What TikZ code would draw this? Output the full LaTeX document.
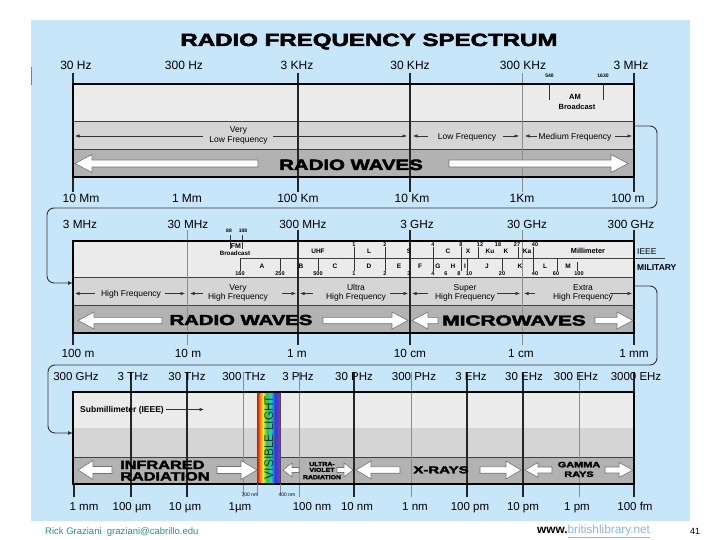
\documentclass[tikz,border=0pt]{standalone}
\usepackage{fontspec}
\usepackage{graphicx}
\setmainfont{Liberation Sans}
\newfontfamily\blackfont[BoldFeatures={FakeBold=2.5}]{Liberation Sans}
\usetikzlibrary{arrows.meta}
\newcommand\fsz[1]{\fontsize{#1}{#1}\selectfont}
\newcommand\heavy[3]{\scalebox{#2}[1]{\fsz{#1}\blackfont\bfseries #3}}
\newcommand\arrR[6]{\filldraw[warrow] (#1,#3-#4) -- (#2-#6,#3-#4) -- (#2-#6,#3-#5) -- (#2,#3) -- (#2-#6,#3+#5) -- (#2-#6,#3+#4) -- (#1,#3+#4) -- cycle;}
\newcommand\arrL[6]{\filldraw[warrow] (#1,#3-#4) -- (#2+#6,#3-#4) -- (#2+#6,#3-#5) -- (#2,#3) -- (#2+#6,#3+#5) -- (#2+#6,#3+#4) -- (#1,#3+#4) -- cycle;}
\definecolor{bgblue}{RGB}{200,230,250}
\definecolor{rowA}{RGB}{235,235,235}
\definecolor{rowB}{RGB}{213,213,213}
\definecolor{rowC}{RGB}{178,178,178}
\definecolor{tickgrey}{RGB}{140,140,140}
\definecolor{footteal}{RGB}{45,140,140}
\definecolor{linkblue}{RGB}{140,180,230}
\definecolor{vistext}{RGB}{30,55,30}
\begin{document}
\begin{tikzpicture}[x=1pt,y=-1pt,
 lbA/.style={anchor=base,inner sep=0pt,font=\fsz{12}},
 lbB/.style={anchor=base,inner sep=0pt,font=\fsz{11.8}},
 lbC/.style={anchor=base,inner sep=0pt,font=\fsz{11.5}},
 rng/.style={anchor=base,inner sep=0pt,font=\fsz{8.5}},
 tnum/.style={anchor=base,inner sep=0pt,font=\fsz{5.5}\bfseries},
 tlet/.style={anchor=base,inner sep=0pt,font=\fsz{6.5}\bfseries},
 hv/.style={anchor=base,inner sep=0pt},
 frame/.style={draw=black,line width=1.6pt},
 divline/.style={draw=black!75,line width=0.8pt},
 tickblk/.style={draw=black!85,line width=1.1pt},
 tickgry/.style={draw=tickgrey,line width=0.6pt},
 tinytick/.style={draw=black!80,line width=0.6pt},
 thinarr/.style={draw=black!80,line width=0.6pt,-{Latex[length=4.5pt,width=3.5pt]}},
 warrow/.style={fill=white,draw=black!55,line width=0.6pt,line join=miter},
 conn/.style={draw=black!80,line width=0.9pt,rounded corners=7pt,-{Latex[length=5pt,width=4pt]}}
]
\useasboundingbox (0,0) rectangle (720,540);
\fill[bgblue] (31,20) rectangle (690,521);
\draw[gray,line width=0.8pt] (31,67) -- (31,85);

% title
\node[hv] (title) at (369,46) {\heavy{17.7}{1.36}{RADIO FREQUENCY SPECTRUM}};

% ================= BAND 1 =================
\fill[rowA] (73,84) rectangle (634,121);
\fill[rowB] (73,121) rectangle (634,149);
\fill[rowC] (73,149) rectangle (634,177);
\draw[divline] (73,121) -- (634,121) (73,149) -- (634,149);
\foreach \x in {73,298,410,634} \draw[tickblk] (\x,73) -- (\x,192);
\draw[tickgry] (522,73) -- (522,192);
\draw[frame] (73,84) rectangle (634,177);
\foreach \x/\t [count=\i] in {76/30 Hz,184/300 Hz,297/3 KHz,410/30 KHz,523/300 KHz,631/3 MHz}
  \node[lbA] (ta\i) at (\x,69.3) {\t};
\foreach \x/\t [count=\i] in {81/10 Mm,187/1 Mm,298/100 Km,412/10 Km,522/1Km,628/100 m}
  \node[lbA] (tb\i) at (\x,202.7) {\t};
% AM broadcast
\node[tnum,font=\fsz{5}\bfseries] (n540) at (549.5,77.3) {540};
\node[tnum,font=\fsz{5}\bfseries] (n1630) at (603,77.3) {1630};
\draw[tinytick] (549,85) -- (549,100) (603.5,85) -- (603.5,100);
\node[anchor=base,inner sep=0pt,font=\fsz{7.5}\bfseries] (am1) at (575,99.3) {AM};
\node[anchor=base,inner sep=0pt,font=\fsz{7.5}\bfseries] (am2) at (577,109.3) {Broadcast};
% ranges
\node[rng] (vlf1) at (238.5,132.5) {Very};
\node[rng] (vlf2) at (238.5,142.5) {Low Frequency};
\node[rng] (lf) at (467,140) {Low Frequency};
\node[rng] (mf) at (575,140) {Medium Frequency};
\draw[thinarr] (203,136) -- (75,136);
\draw[thinarr] (273,136) -- (407,136);
\draw[thinarr] (428,136) -- (413,136);
\draw[thinarr] (503,136) -- (519,136);
\draw[thinarr] (537,136) -- (525,136);
\draw[thinarr] (615,136) -- (632,136);
% radio waves
\arrL{258}{75}{163.5}{3.5}{9}{17}
\arrR{449}{628}{163.5}{3.5}{9}{17}
\node[hv] (rw1) at (351,170) {\heavy{15}{1.36}{RADIO WAVES}};

% connector 1
\coordinate (b1out) at (634,126);
\coordinate (b2in) at (73,283);
\draw[conn] (b1out) -- (657,126) -- (657,208) -- (47,208) -- (47,283) -- (b2in);

% ================= BAND 2 =================
\fill[rowA] (73,241) rectangle (634,277);
\fill[rowB] (73,277) rectangle (634,305);
\fill[rowC] (73,305) rectangle (634,333);
\draw[divline] (73,277) -- (634,277) (73,305) -- (634,305);
\draw[divline] (240,258) -- (665,258);
% row 1 small ticks
\foreach \x in {354,385,433,461,533} \draw[tinytick] (\x,247) -- (\x,271);
\foreach \x in {478,518} \draw[tinytick] (\x,247) -- (\x,258);
\foreach \x in {240,280,318,467,502,557} \draw[tinytick] (\x,258) -- (\x,271);
\draw[tinytick] (577,262) -- (577,271);
\draw[tinytick] (230,235) -- (230,249) (242,235) -- (242,249);
% ticks
\foreach \x in {298,410,634} \draw[tickblk] (\x,230) -- (\x,345);
\draw[tickblk] (73,333) -- (73,345);
\foreach \x in {187,522} \draw[tickgry] (\x,230) -- (\x,345);
\draw[frame] (73,241) rectangle (634,333);
\foreach \x/\t [count=\i] in {80/3 MHz,188/30 MHz,303/300 MHz,417/3 GHz,527/30 GHz,631/300 GHz}
  \node[lbB] (tc\i) at (\x,228.3) {\t};
\foreach \x/\t [count=\i] in {78/100 m,188/10 m,297/1 m,410/10 cm,521/1 cm,634/1 mm}
  \node[lbB] (td\i) at (\x,357.7) {\t};
% FM
\node[tnum,font=\fsz{5}\bfseries] (n88) at (229,233) {88};
\node[tnum,font=\fsz{5}\bfseries] (n108) at (243,233) {108};
\node[tlet,font=\fsz{7}\bfseries] (fm) at (236,248) {FM};
\node[tlet,font=\fsz{6.2}\bfseries] (fmb) at (235,255) {Broadcast};
\node[tlet] (uhf) at (318,254) {UHF};
% IEEE numbers
\foreach \x/\t [count=\i] in {354/1,385/2,433/4,461/8,480/12,498/18,517/27,535/40}
  \node[tnum] (ie\i) at (\x,246.5) {\t};
\foreach \x/\t [count=\i] in {369/L,409/S,448/C,468/X,490/Ku,506/K,527/Ka}
  \node[tlet] (il\i) at (\x,253.3) {\t};
\node[tlet,font=\fsz{7.3}\bfseries] (mm) at (588,253.3) {Millimeter};
% military
\foreach \x/\t [count=\i] in {262/A,301/B,335/C,369/D,399/E,420/F,438/G,453/H,465/I,487/J,520/K,545/L,568/M}
  \node[tlet] (ml\i) at (\x,268) {\t};
\foreach \x/\t [count=\i] in {240/160,280/250,318/500,354/1,385/2,409/3,433/4,446/6,459/8,469/10,502/20,535/40,556/60,579/100}
  \node[tnum] (mn\i) at (\x,275.5) {\t};
\node[anchor=base west,inner sep=0pt,font=\fsz{8.5}] (ieee) at (637,254.3) {IEEE};
\node[anchor=base west,inner sep=0pt,font=\fsz{8.5}\bfseries] (mil) at (637,270) {MILITARY};
% ranges
\node[rng] (hf) at (131,296.5) {High Frequency};
\node[rng] (vhf1) at (238,290) {Very};
\node[rng] (vhf2) at (238,299.5) {High Frequency};
\node[rng] (uhf1) at (356,290) {Ultra};
\node[rng] (uhf2) at (356,299.5) {High Frequency};
\node[rng] (shf1) at (465,290) {Super};
\node[rng] (shf2) at (465,299.5) {High Frequency};
\node[rng] (ehf1) at (583,290) {Extra};
\node[rng] (ehf2) at (583,299.5) {High Frequency};
\draw[thinarr] (95,293.5) -- (75,293.5);
\draw[thinarr] (165,293.5) -- (185,293.5);
\draw[thinarr] (203,293.5) -- (190,293.5);
\draw[thinarr] (282,293.5) -- (296,293.5);
\draw[thinarr] (313,293.5) -- (300,293.5);
\draw[thinarr] (390,293.5) -- (408,293.5);
\draw[thinarr] (428,293.5) -- (412,293.5);
\draw[thinarr] (497,293.5) -- (520,293.5);
\draw[thinarr] (535,293.5) -- (524,293.5);
\draw[thinarr] (610,293.5) -- (632,293.5);
% row 3
\arrL{162}{78}{320.5}{3.2}{8.5}{16}
\arrR{323}{408}{320.5}{3.2}{8.5}{16}
\arrL{438}{412}{320.5}{3.2}{8.5}{16}
\arrR{595}{633}{320.5}{3.2}{8.5}{16}
\node[hv] (rw2) at (241,325) {\heavy{14.5}{1.40}{RADIO WAVES}};
\node[hv] (mw) at (514,325.5) {\heavy{14.5}{1.44}{MICROWAVES}};

% connector 2
\coordinate (b2out) at (634,286);
\coordinate (b3in) at (73,433);
\draw[conn] (b2out) -- (657,286) -- (657,365) -- (48,365) -- (48,433) -- (b3in);

% ================= BAND 3 =================
\fill[rowA] (73,392) rectangle (634,428);
\fill[rowB] (73,428) rectangle (634,457);
\fill[rowC] (73,457) rectangle (634,484);
\draw[divline] (73,457) -- (634,457);
\foreach \x in {131,187,354,467,523,634} \draw[tickblk] (\x,372) -- (\x,497);
\draw[tickblk] (74,484) -- (74,497);
\foreach \x in {243,299,411,579} \draw[tickgry] (\x,372) -- (\x,497);
% visible light strip
\shade[left color={rgb,255:red,190;green,20;blue,20},right color={rgb,255:red,250;green,120;blue,20}] (257,392) rectangle (260,484);
\shade[left color={rgb,255:red,250;green,120;blue,20},right color={rgb,255:red,250;green,240;blue,30}] (259.8,392) rectangle (263,484);
\shade[left color={rgb,255:red,250;green,240;blue,30},right color={rgb,255:red,40;green,200;blue,60}] (262.8,392) rectangle (267,484);
\shade[left color={rgb,255:red,40;green,200;blue,60},right color={rgb,255:red,30;green,200;blue,230}] (266.8,392) rectangle (271,484);
\shade[left color={rgb,255:red,30;green,200;blue,230},right color={rgb,255:red,40;green,60;blue,220}] (270.8,392) rectangle (275,484);
\shade[left color={rgb,255:red,40;green,60;blue,220},right color={rgb,255:red,150;green,40;blue,200}] (274.8,392) rectangle (280,484);
\draw[black!70,line width=0.6pt] (257,392) -- (257,484) (280,392) -- (280,484);
\draw[frame] (73,392) rectangle (634,484);
\node[inner sep=0pt,rotate=90,text=vistext] (vis) at (268.7,437.5) {\scalebox{0.95}[1]{\fsz{12.5}VISIBLE LIGHT}};
\draw[tickgry] (257,484) -- (257,494) (280,484) -- (280,494);
\node[anchor=base,inner sep=0pt,font=\fsz{5}] (n700) at (250,496.7) {700 nm};
\node[anchor=base,inner sep=0pt,font=\fsz{5}] (n400) at (287,496.7) {400 nm};
\foreach \x/\t [count=\i] in {76/300 GHz,133/3 THz,187/30 THz,244/300 THz,298/3 PHz,354/30 PHz,414/300 PHz,471/3 EHz,524/30 EHz,576/300 EHz,636/3000 EHz}
  \node[lbC] (te\i) at (\x,380.7) {\t};
\foreach \x/\t [count=\i] in {84/1 mm,132/100 µm,185/10 µm,240/1µm,312/100 nm,357/10 nm,415/1 nm,470/100 pm,523/10 pm,577/1 pm,635/100 fm}
  \node[lbC] (tf\i) at (\x,510.5) {\t};
% submillimeter
\node[anchor=base west,inner sep=0pt,font=\fsz{8.5}\bfseries] (subm) at (80,412.5) {Submillimeter (IEEE)};
\draw[thinarr] (subm.east |- 0,409.5) ++(2,0) -- (204,409.5);
% infrared
\arrL{112}{78}{470}{3.5}{9.5}{15}
\arrR{217}{257}{470}{3.5}{9.5}{16}
\node[anchor=base west,inner sep=0pt] (ir1) at (120,469) {\heavy{12}{1.36}{INFRARED}};
\node[anchor=base west,inner sep=0pt] (ir2) at (120,480.5) {\heavy{12}{1.36}{RADIATION}};
% ultraviolet
\arrL{299}{283}{470}{2.5}{7}{9}
\arrR{337}{353}{470}{2.5}{7}{9}
\node[hv] (uv1) at (322,466) {\heavy{5.8}{1.2}{ULTRA-}};
\node[hv] (uv2) at (322,471.9) {\heavy{5.8}{1.2}{VIOLET}};
\node[hv] (uv3) at (322,479.2) {\heavy{5.8}{1.2}{RADIATION}};
% x-rays
\arrL{400}{356}{470}{3.2}{9}{15}
\arrR{480}{521}{470}{3.2}{9}{15}
\node[hv] (xr) at (441,473.3) {\heavy{10}{1.5}{X-RAYS}};
% gamma
\arrL{552}{525}{470}{3}{7.5}{13}
\arrR{605}{633}{470}{3}{7.5}{14}
\node[hv] (gm1) at (579,467.3) {\heavy{7.8}{1.4}{GAMMA}};
\node[hv] (gm2) at (579,476.9) {\heavy{7.8}{1.4}{RAYS}};

% ================= FOOTER =================
\node[anchor=base west,inner sep=0pt,font=\fsz{9.5},text=footteal] (auth) at (45,534.5) {Rick Graziani\ \ graziani@cabrillo.edu};
\node[anchor=base west,inner sep=0pt,font=\fsz{11.8}] (web) at (537,533.5) {\textbf{www.}\textcolor{linkblue}{\underline{britishlibrary.net}}};
\node[anchor=base,inner sep=0pt,font=\fsz{9}] (pg) at (695,534.5) {41};
\end{tikzpicture}
\end{document}
